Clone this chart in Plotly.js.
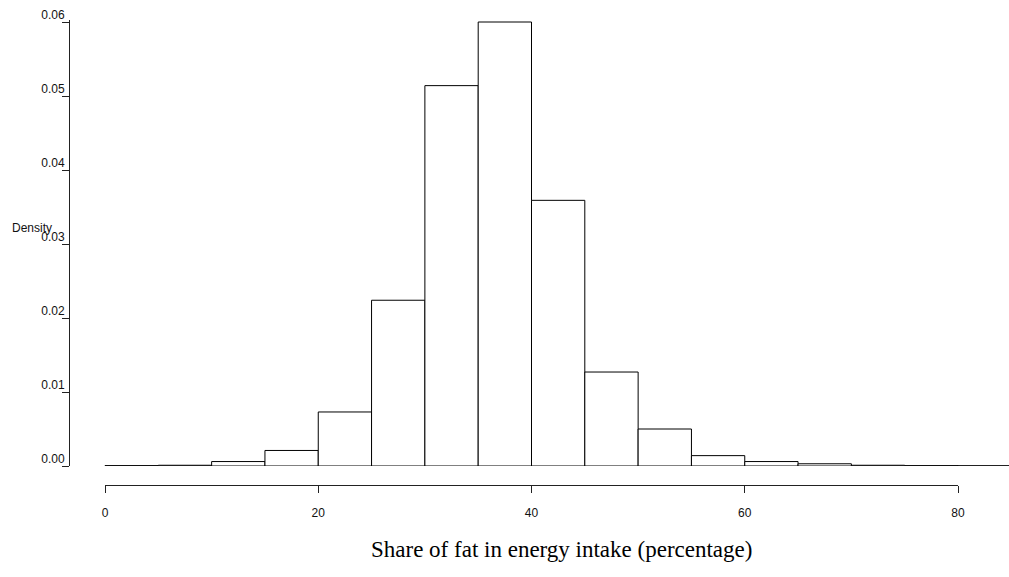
<!DOCTYPE html>
<html>
<head>
<meta charset="utf-8">
<script src="https://cdn.plot.ly/plotly-3.0.1.min.js"></script>
<style>html,body{margin:0;padding:0;background:#fff;}</style>
</head>
<body>
<div id="chart" style="width:1009px;height:577px;"></div>
<script>
// Histogram bins (percentage of fat in energy intake), bin width 5
const binStarts = [0, 5, 10, 15, 20, 25, 30, 35, 40, 45, 50, 55, 60, 65, 70, 75, 80];
const binWidth = 5;
const density = [0.00005, 0.0001, 0.0006, 0.0021, 0.0073, 0.0224, 0.0514, 0.0600, 0.0359, 0.0127, 0.0050, 0.0014, 0.0006, 0.0003, 0.0001, 0.00005, 0.00003];
const yTicks = [0, 0.01, 0.02, 0.03, 0.04, 0.05, 0.06];
const xTicks = [0, 20, 40, 60, 80];
const xTitle = 'Share of fat in energy intake (percentage)';
const yTitle = 'Density';

const centers = binStarts.map(b => b + binWidth / 2);

const W = 1009, H = 577;
const ml = 70, mr = 0, mt = 20, mb = 92;
const plotW = W - ml - mr, plotH = H - mt - mb;
const px0 = 105, px80 = 958;            // pixel positions of x=0 and x=80
const unit = (px80 - px0) / 80;
const xmin = -(px0 - ml) / unit;
const xmax = xmin + plotW / unit;
const yBase = 466;                       // pixel row of density 0
const yTop = 22;                         // pixel row of density 0.06
const yDomLo = (H - mb - yBase) / plotH;
const yMax = 0.06 * (yBase - mt) / (yBase - yTop);

const font = {family: 'Liberation Sans, Arial, sans-serif', size: 12, color: '#111'};

const traces = [
  {
    type: 'scatter', mode: 'markers', x: [xTicks[0], xTicks[xTicks.length - 1]], y: [0, 0],
    marker: {opacity: 0}, hoverinfo: 'skip', xaxis: 'x2', yaxis: 'y', showlegend: false
  },
  {
    type: 'bar', x: centers, y: density, width: binWidth,
    marker: {color: '#ffffff', line: {color: '#000000', width: 1}},
    hoverinfo: 'x+y', xaxis: 'x', yaxis: 'y'
  }
];

const layout = {
  width: W, height: H,
  margin: {l: ml, r: mr, t: mt, b: mb, pad: 0},
  paper_bgcolor: '#ffffff', plot_bgcolor: 'rgba(0,0,0,0)',
  showlegend: false, bargap: 0,
  font: font,
  xaxis: {
    range: [xmin, xmax], domain: [0, 1],
    showline: false, showticklabels: false, ticks: '', showgrid: false, zeroline: false
  },
  xaxis2: {
    range: [xTicks[0], xTicks[xTicks.length - 1]],
    domain: [(px0 - ml) / plotW, (px80 - ml) / plotW],
    anchor: 'free', position: 0,
    showline: true, linecolor: '#222', linewidth: 1,
    ticks: 'outside', ticklen: 7, tickcolor: '#222', tickwidth: 1,
    tickvals: xTicks, ticktext: xTicks.map(String),
    ticklabelstandoff: 10,
    showgrid: false, zeroline: false, tickfont: font
  },
  yaxis: {
    range: [0, yMax], domain: [yDomLo, 1],
    showline: true, linecolor: '#222', linewidth: 1,
    ticks: 'outside', ticklen: 7, tickcolor: '#222', tickwidth: 1,
    tickvals: yTicks, ticktext: yTicks.map(v => v.toFixed(2)),
    ticklabelshift: -7, ticklabelstandoff: -5,
    showgrid: false, zeroline: false, tickfont: font
  },
  annotations: [
    {
      text: yTitle, xref: 'paper', yref: 'paper',
      x: (10 - ml) / plotW, y: (H - mb - 228) / plotH,
      xanchor: 'left', yanchor: 'middle', showarrow: false, font: font
    },
    {
      text: xTitle, xref: 'paper', yref: 'paper',
      x: (561 - ml) / plotW, y: (H - mb - 550) / plotH,
      xanchor: 'center', yanchor: 'middle', showarrow: false,
      font: {family: 'Liberation Serif, Times New Roman, serif', size: 23, color: '#000'}
    }
  ]
};

Plotly.newPlot('chart', traces, layout, {displayModeBar: false, staticPlot: true});
</script>
</body>
</html>
